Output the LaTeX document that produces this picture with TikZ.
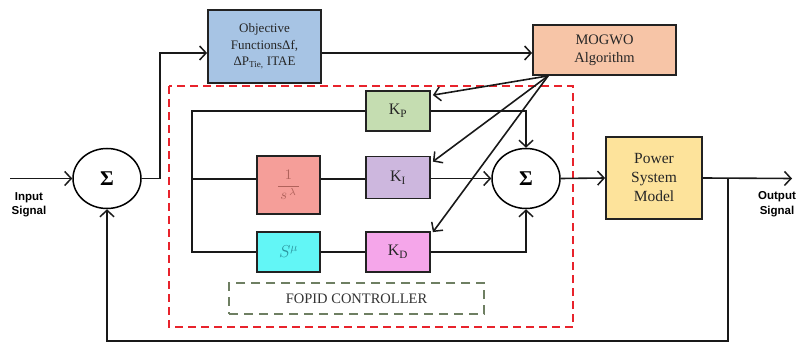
\documentclass[tikz,border=0pt]{standalone}
\usepackage{graphicx}
\usepackage{fontspec}
\setmainfont{Liberation Serif}
\newfontfamily\lsans{Liberation Sans}
\usetikzlibrary{arrows.meta,shapes.geometric,calc}
\definecolor{objblue}{HTML}{A7C4E4}
\definecolor{mogpeach}{HTML}{F7C5A7}
\definecolor{kpgreen}{HTML}{C5DDB1}
\definecolor{kipurple}{HTML}{CDB7DE}
\definecolor{kdpink}{HTML}{F5A6EA}
\definecolor{lamred}{HTML}{F59E99}
\definecolor{mucyan}{HTML}{62F6F6}
\definecolor{pwyellow}{HTML}{FDE39B}
\definecolor{lamtext}{HTML}{B0625B}
\definecolor{mutext}{HTML}{2A929C}
\definecolor{boxline}{HTML}{222222}
\definecolor{dashred}{HTML}{E8232C}
\definecolor{dashgreen}{HTML}{6E7F62}
\begin{document}
\begin{tikzpicture}[x=1pt,y=-1pt,
  blk/.style={draw=boxline, line width=1.8pt, align=center, inner sep=0pt, text=black!85},
  sumnode/.style={draw=black, line width=1.5pt, ellipse, minimum width=68pt, minimum height=60pt, inner sep=0pt, font=\fontsize{21}{21}\selectfont\bfseries},
  conn/.style={draw=black!90, line width=1.6pt},
  arr/.style={conn, -{Straight Barb[length=6.5pt,width=14pt,line width=1.5pt]}},
  lbl/.style={font=\lsans\bfseries\fontsize{11.5}{14.5}\selectfont, align=center, inner sep=0pt}
]
\useasboundingbox (0,0) rectangle (799,344);
\fill[white] (0,0) rectangle (799,344);

% dashed frames
\draw[dashred, line width=1.8pt, dash pattern=on 8pt off 5pt] (169,86) rectangle (573,327);
\node[draw=dashgreen, line width=1.5pt, dash pattern=on 9pt off 6pt, minimum width=255pt, minimum height=31pt, inner sep=0pt, font=\fontsize{14.5}{14.5}\selectfont, text=black!80] (fopid) at (356.5,298.5) {FOPID CONTROLLER};

% blocks
\node[blk, fill=objblue, minimum width=113pt, minimum height=73pt, font=\fontsize{13}{16.5}\selectfont] (obj) at (264.5,46.5) {Objective\\ FunctionsΔf,\\ ΔP\textsubscript{Tie,} ITAE};
\node[blk, fill=mogpeach, minimum width=143pt, minimum height=50pt, font=\fontsize{14.5}{18}\selectfont] (mog) at (604.5,50) {MOGWO\\ Algorithm};
\node[blk, fill=kpgreen, minimum width=64pt, minimum height=40pt, font=\fontsize{16}{16}\selectfont] (kp) at (398,111) {K\textsubscript{P}};
\node[blk, fill=kipurple, minimum width=64pt, minimum height=42pt, font=\fontsize{16}{16}\selectfont] (ki) at (398,177.5) {K\textsubscript{I}};
\node[blk, fill=kdpink, minimum width=64pt, minimum height=40pt, font=\fontsize{16}{16}\selectfont] (kd) at (398,252) {K\textsubscript{D}};
\node[blk, fill=lamred, minimum width=63pt, minimum height=58pt, text=lamtext] (lam) at (288.5,185) {\scalebox{1.45}{$\displaystyle\frac{1}{\,s^{\,\lambda}\,}$}};
\node[blk, fill=mucyan, minimum width=63pt, minimum height=40pt, text=mutext, font=\fontsize{18}{18}\selectfont] (smu) at (288.5,252) {$S^{\mu}$};
\node[blk, fill=pwyellow, minimum width=96pt, minimum height=82pt, font=\fontsize{15.5}{19}\selectfont] (pw) at (654,178) {Power\\ System\\ Model};

% summing junctions
\node[sumnode] (s1) at (107,178.5) {Σ};
\node[sumnode] (s2) at (526,178.5) {Σ};

% labels
\node[lbl] (inlbl) at (29,205) {Input\\ Signal};
\node[lbl] (outlbl) at (777,204) {Output\\ Signal};

% coordinates
\coordinate (inp) at (10,178.5);
\coordinate (j1) at (160,53);
\coordinate (bl) at (192,111);
\coordinate (bm) at (192,179);
\coordinate (bb) at (192,252);
\coordinate (ms) at ($(mog.south west)+(16,0)$);
\coordinate (outp) at (792,178.5);
\coordinate (fb) at (728,178.5);
\coordinate (fbb) at (728,341);

% connectors
\draw[arr] (inp) -- (s1.west);
\draw[arr] (s1.east) -| (j1) -- (j1 -| obj.west);
\draw[arr] (j1 -| obj.east) -- (j1 -| mog.west);
\draw[arr] (ms) -- ($(kp.north east)+(2,5)$);
\draw[arr] (ms) -- ($(ki.north east)+(2,6)$);
\draw[arr] (ms) -- ($(kd.north east)+(2,1)$);

\draw[conn] (kp.west) -- (bl) -- (bb) -- (smu.west);
\draw[conn] (bm) -- (bm -| lam.west);
\draw[conn] (bm -| lam.east) -- (bm -| ki.west);
\draw[conn] (smu.east) -- (kd.west);

\draw[arr] (kp.east) -| (s2.north);
\draw[arr] (ki.east |- s2.west) -- (s2.west);
\draw[arr] (kd.east) -| (s2.south);

\draw[arr] (s2.east) -- (pw.west);
\draw[arr] (pw.east) -- (outp);
\draw[arr] (fb) -- (fbb) -| (s1.south);
\end{tikzpicture}
\end{document}
